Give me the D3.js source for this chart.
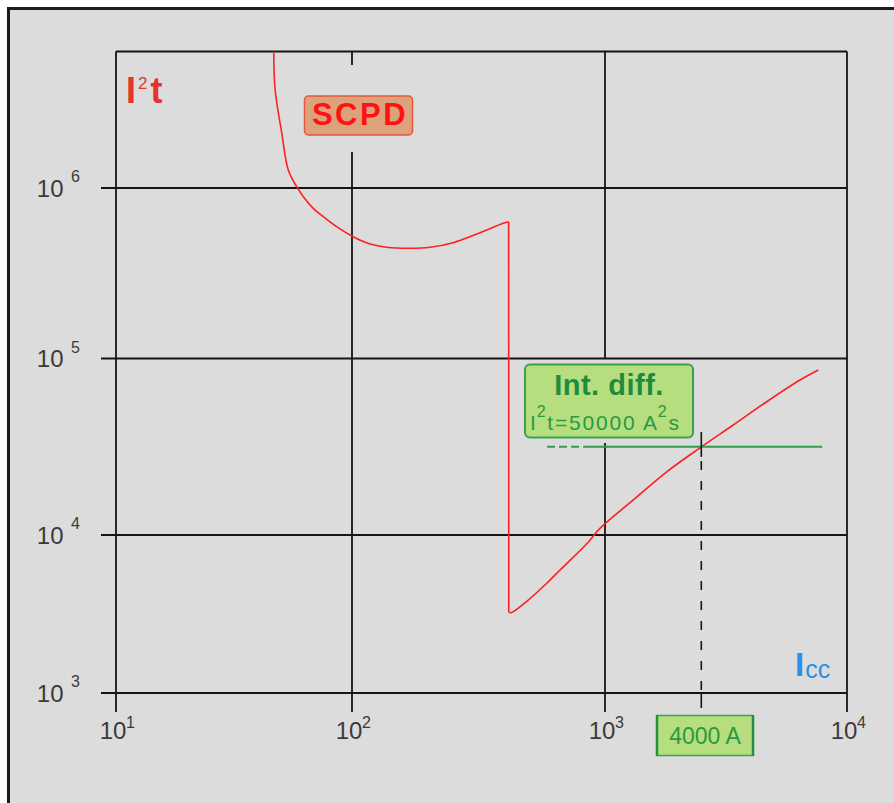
<!DOCTYPE html>
<html>
<head>
<meta charset="utf-8">
<script src="https://cdn.jsdelivr.net/npm/d3@7"></script>
<style>
  html, body { margin: 0; padding: 0; background: #fff; }
  svg { display: block; }
  text { font-family: "Liberation Sans", Arial, sans-serif; }
</style>
</head>
<body>
<svg id="chart" width="894" height="803"></svg>
<script>
// Axis decades
const iccDecades = [10, 100, 1000, 10000]
const i2tDecades = [1e3, 1e4, 1e5, 1e6]

// SCPD let-through energy curve (Icc in A, I2t in A2s)
const scpdIcc = [46.6, 47.2, 50.4, 53.7, 58.3, 62.2, 68.5, 75.6, 86.1, 101, 118, 137, 170, 203, 251, 311, 396, 416, 416.5, 425, 492, 590, 664, 862, 955, 1309, 1799, 2470, 3388, 4659, 6393, 7608]
const scpdI2t = [6.4e6, 3.81e6, 2.1e6, 1.275e6, 1.018e6, 8.89e5, 7.6e5, 6.79e5, 5.93e5, 5.18e5, 4.69e5, 4.49e5, 4.43e5, 4.49e5, 4.78e5, 5.37e5, 6.21e5, 6.34e5, 3.25e3, 3.22e3, 3.82e3, 4.97e3, 6.0e3, 9.07e3, 1.09e4, 1.58e4, 2.28e4, 3.12e4, 4.2e4, 5.69e4, 7.55e4, 8.61e4]
const dropIndex = 18 // first point after the vertical drop

// RCD limit line and crossing marker, as drawn
const limitI2t = 31600
const limitDashIcc = [590, 820]
const limitSolidIcc = [820, 7900]
const markIcc = 2500
const markTopI2t = 3.83e4
const markSolidEndI2t = 2.77e4

// Label texts
const limitLabel = ['Int. diff.', '50000']
const markLabel = '4000 A'
const curveLabel = 'SCPD'

const svg = d3.select('#chart')

// Frame + background
svg.append('rect')
  .attr('x', 8.5).attr('y', 8.5)
  .attr('width', 1000).attr('height', 1000)
  .attr('fill', '#dcdcdc')
  .attr('stroke', '#1c1c1c')
  .attr('stroke-width', 3)

const x = d3.scaleLog()
  .domain(iccDecades)
  .range([116, 352, 605, 847])

const y = d3.scaleLog()
  .domain([...i2tDecades, 1e7])
  .range([693, 535, 358.5, 188, 17.5])

const plotLeft = x(iccDecades[0])
const plotRight = x(iccDecades[iccDecades.length - 1])
const plotBottom = y(i2tDecades[0])
const plotTop = 51.5

const gridColor = '#151515'
const grid = svg.append('g')
  .attr('stroke', gridColor)
  .attr('stroke-width', 1.8)
  .attr('fill', 'none')

// Horizontal grid lines (with tick stubs to the left)
i2tDecades.forEach(v => {
  grid.append('line')
    .attr('x1', plotLeft - 15).attr('x2', plotRight)
    .attr('y1', y(v)).attr('y2', y(v))
})
grid.append('line')
  .attr('x1', plotLeft).attr('x2', plotRight)
  .attr('y1', plotTop).attr('y2', plotTop)

// Vertical grid lines, broken around the annotation boxes
const gaps = { 100: [65, 152], 1000: [y(1e5), 443] }
iccDecades.forEach(v => {
  const gx = x(v)
  const g = gaps[v]
  const segs = g ? [[plotTop, g[0]], [g[1], plotBottom + 19]] : [[plotTop, plotBottom + 19]]
  segs.forEach(s => {
    grid.append('line')
      .attr('x1', gx).attr('x2', gx)
      .attr('y1', s[0]).attr('y2', s[1])
  })
})

// Axis labels
const labelColor = '#3a3a3a'
i2tDecades.forEach(v => {
  const ty = y(v)
  svg.append('text')
    .attr('x', 63.5).attr('y', ty + 8.5)
    .attr('text-anchor', 'end')
    .attr('font-size', 24)
    .attr('fill', labelColor)
    .text('10')
  svg.append('text')
    .attr('x', 71).attr('y', ty - 6)
    .attr('font-size', 16)
    .attr('fill', labelColor)
    .text(Math.round(Math.log10(v)))
})
iccDecades.forEach(v => {
  const tx = x(v)
  svg.append('text')
    .attr('x', tx - 3).attr('y', 739)
    .attr('text-anchor', 'middle')
    .attr('font-size', 24)
    .attr('fill', labelColor)
    .text('10')
  svg.append('text')
    .attr('x', tx + 10).attr('y', 728)
    .attr('font-size', 16)
    .attr('fill', labelColor)
    .text(Math.round(Math.log10(v)))
})

// Clip for the curve
svg.append('clipPath').attr('id', 'plot-clip')
  .append('rect')
  .attr('x', plotLeft).attr('y', plotTop)
  .attr('width', plotRight - plotLeft).attr('height', plotBottom - plotTop)

// SCPD curve: smooth branches joined by the vertical drop
const pts = scpdIcc.map((c, i) => [c, scpdI2t[i]])
const smooth = d3.line()
  .x(d => x(d[0]))
  .y(d => y(d[1]))
  .curve(d3.curveCatmullRom.alpha(0.5))
const straight = d3.line()
  .x(d => x(d[0]))
  .y(d => y(d[1]))

const curve = svg.append('g')
  .attr('clip-path', 'url(#plot-clip)')
  .attr('fill', 'none')
  .attr('stroke', '#ff1f1f')
  .attr('stroke-width', 1.6)
  .attr('stroke-linejoin', 'round')

curve.append('path').attr('d', smooth(pts.slice(0, dropIndex)))
curve.append('path').attr('d', straight(pts.slice(dropIndex - 1, dropIndex + 1)))
curve.append('path').attr('d', smooth(pts.slice(dropIndex)))

// Limit line (green)
const green = '#2e9e4e'
svg.append('line')
  .attr('x1', x(limitDashIcc[0])).attr('x2', x(limitDashIcc[1]))
  .attr('y1', y(limitI2t)).attr('y2', y(limitI2t))
  .attr('stroke', green)
  .attr('stroke-width', 2)
  .attr('stroke-dasharray', '8,4')
svg.append('line')
  .attr('x1', x(limitSolidIcc[0])).attr('x2', x(limitSolidIcc[1]))
  .attr('y1', y(limitI2t)).attr('y2', y(limitI2t))
  .attr('stroke', green)
  .attr('stroke-width', 2)

// Crossing marker
const mx = x(markIcc)
svg.append('line')
  .attr('x1', mx).attr('x2', mx)
  .attr('y1', y(markTopI2t)).attr('y2', y(markSolidEndI2t))
  .attr('stroke', gridColor)
  .attr('stroke-width', 1.6)
svg.append('line')
  .attr('x1', mx).attr('x2', mx)
  .attr('y1', y(markSolidEndI2t) + 4).attr('y2', plotBottom)
  .attr('stroke', gridColor)
  .attr('stroke-width', 1.6)
  .attr('stroke-dasharray', '9,11')
svg.append('line')
  .attr('x1', mx).attr('x2', mx)
  .attr('y1', plotBottom).attr('y2', plotBottom + 15)
  .attr('stroke', gridColor)
  .attr('stroke-width', 1.6)

// Axis titles
const title = svg.append('text')
  .attr('x', 126).attr('y', 103)
  .attr('fill', '#e3352a')
  .attr('font-weight', 'bold')
title.append('tspan').attr('font-size', 36).text('I')
title.append('tspan').attr('font-size', 17).attr('font-weight', 'normal')
  .attr('dx', 2).attr('dy', -14).text('2')
title.append('tspan').attr('font-size', 36).attr('dx', 3).attr('dy', 14).text('t')

const icc = svg.append('text')
  .attr('x', 795).attr('y', 676)
  .attr('fill', '#2a8fe6')
icc.append('tspan').attr('font-size', 33).attr('font-weight', 'bold').text('I')
icc.append('tspan').attr('font-size', 25).attr('dx', 1).attr('dy', 2).text('cc')

// SCPD box
svg.append('rect')
  .attr('x', 304.5).attr('y', 96)
  .attr('width', 108).attr('height', 39)
  .attr('rx', 4)
  .attr('fill', '#dca27c')
  .attr('stroke', '#e2583a')
  .attr('stroke-width', 1.5)
svg.append('text')
  .attr('x', 360).attr('y', 125)
  .attr('text-anchor', 'middle')
  .attr('font-size', 31)
  .attr('font-weight', 'bold')
  .attr('letter-spacing', 2.5)
  .attr('fill', '#ff1212')
  .text(curveLabel)

// Int. diff. box
svg.append('rect')
  .attr('x', 525).attr('y', 364.5)
  .attr('width', 168).attr('height', 73)
  .attr('rx', 5)
  .attr('fill', '#b6de7f')
  .attr('stroke', '#36a24c')
  .attr('stroke-width', 2)
svg.append('text')
  .attr('x', 609).attr('y', 395)
  .attr('text-anchor', 'middle')
  .attr('font-size', 29)
  .attr('font-weight', 'bold')
  .attr('letter-spacing', 0.5)
  .attr('fill', '#1e8c3c')
  .text(limitLabel[0])
const eq = svg.append('text')
  .attr('x', 530).attr('y', 430)
  .attr('font-size', 21)
  .attr('letter-spacing', 1.8)
  .attr('fill', '#279a43')
eq.append('tspan').text('I')
eq.append('tspan').attr('font-size', 16).attr('dx', -1).attr('dy', -13).text('2')
eq.append('tspan').attr('dy', 13).text(`t=${limitLabel[1]} A`)
eq.append('tspan').attr('font-size', 16).attr('dx', -1).attr('dy', -13).text('2')
eq.append('tspan').attr('dy', 13).text('s')

// 4000 A box
svg.append('rect')
  .attr('x', 657).attr('y', 715.5)
  .attr('width', 96).attr('height', 40)
  .attr('fill', '#b6de7f')
  .attr('stroke', '#3aa54e')
  .attr('stroke-width', 1.5)
svg.selectAll('.box-side')
  .data([657, 753])
  .join('line')
  .attr('class', 'box-side')
  .attr('x1', d => d).attr('x2', d => d)
  .attr('y1', 715).attr('y2', 756)
  .attr('stroke', '#229040')
  .attr('stroke-width', 2.5)
svg.append('text')
  .attr('x', 705).attr('y', 744)
  .attr('text-anchor', 'middle')
  .attr('font-size', 23)
  .attr('fill', '#279a43')
  .text(markLabel)
</script>
</body>
</html>
